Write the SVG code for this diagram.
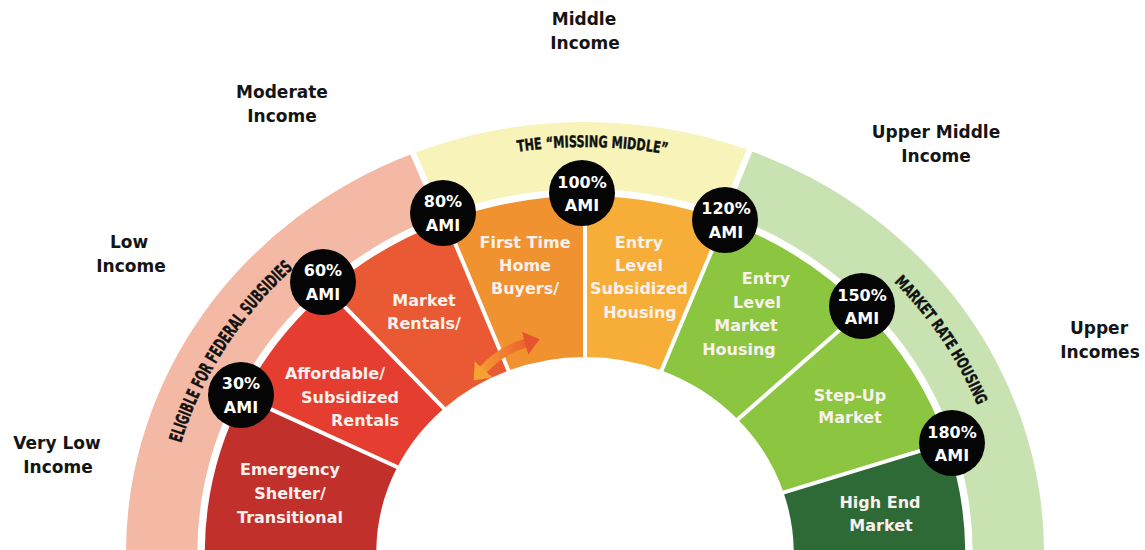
<svg xmlns="http://www.w3.org/2000/svg" width="1145" height="550" viewBox="0 0 1145 550">
<style>
.inc{font-family:"DejaVu Sans","Liberation Sans",sans-serif;font-weight:bold;font-size:17px;fill:#151515;text-anchor:middle}
.seg{font-family:"DejaVu Sans","Liberation Sans",sans-serif;font-weight:bold;font-size:16px;fill:#f8f1ee;text-anchor:middle}
.ami{font-family:"DejaVu Sans","Liberation Sans",sans-serif;font-weight:bold;font-size:16px;fill:#ffffff;text-anchor:middle}
.arc{font-family:"Liberation Sans Narrow","DejaVu Sans Condensed","Arial Narrow",sans-serif;font-weight:bold;font-stretch:condensed;fill:#111;stroke:#111;stroke-width:0.4}
.div{stroke:#fff;stroke-width:4;vector-effect:non-scaling-stroke;fill:none}
.gap{stroke:#fff;stroke-width:6;vector-effect:non-scaling-stroke;fill:none}
.dot{fill:#050505}
</style>
<defs>
<path id="p-elig" d="M169.5,491.2 A420.7 395 0 0 1 331.8,237.6" fill="none"/>
<path id="p-mkt" d="M845.3,240.2 A422.8 397 0 0 1 997.6,466.4" fill="none"/>
<path id="p-miss" d="M437.1,171.5 A432.4 406 0 0 1 747.0,176.6" fill="none"/>
<linearGradient id="arrowGrad" gradientUnits="userSpaceOnUse" x1="474" y1="0" x2="540" y2="0">
<stop offset="0" stop-color="#f5a232"/>
<stop offset="1" stop-color="#e8522e"/>
</linearGradient>
<marker id="headL" markerUnits="userSpaceOnUse" viewBox="0 0 15 24" markerWidth="15" markerHeight="24" refX="1" refY="12" orient="auto-start-reverse">
<path d="M0,0 L15,12 L0,24 Z" fill="#f5a232"/>
</marker>
<marker id="headR" markerUnits="userSpaceOnUse" viewBox="0 0 15 24" markerWidth="15" markerHeight="24" refX="1" refY="12" orient="auto">
<path d="M0,0 L15,12 L0,24 Z" fill="#e8522e"/>
</marker>
</defs>
<rect width="1145" height="550" fill="#ffffff"/>

<g id="band-federal">
<path transform="translate(585 553) scale(1.065 1)" d="M-161.5 -399.6 A431 431 0 0 0 -431 0 L-364 0 A364 364 0 0 1 -136.4 -337.5 Z" fill="#f4b9a5"/>
<text class="arc" font-size="18"><textPath href="#p-elig" startOffset="50%" text-anchor="middle" textLength="210" lengthAdjust="spacingAndGlyphs">ELIGIBLE FOR FEDERAL SUBSIDIES</textPath></text>
</g>
<g id="band-missing">
<path transform="translate(585 553) scale(1.065 1)" d="M154.5 -402.4 A431 431 0 0 0 -161.5 -399.6 L-136.4 -337.5 A364 364 0 0 1 130.5 -339.8 Z" fill="#f7f3b9"/>
<text class="arc" font-size="16"><textPath href="#p-miss" startOffset="50%" text-anchor="middle" textLength="150" lengthAdjust="spacingAndGlyphs">THE “MISSING MIDDLE”</textPath></text>
</g>
<g id="band-market">
<path transform="translate(585 553) scale(1.065 1)" d="M431 0 A431 431 0 0 0 154.5 -402.4 L130.5 -339.8 A364 364 0 0 1 364 0 Z" fill="#c9e2b1"/>
<text class="arc" font-size="16"><textPath href="#p-mkt" startOffset="50%" text-anchor="middle" textLength="150" lengthAdjust="spacingAndGlyphs">MARKET RATE HOUSING</textPath></text>
</g>

<g id="seg-emergency">
<path transform="translate(585 553) scale(1.065 1)" d="M-320.9 -156.5 A357 357 0 0 0 -357 0 L-196 0 A196 196 0 0 1 -176.2 -85.9 Z" fill="#c1302b"/>
<text class="seg"><tspan x="290" y="475">Emergency</tspan><tspan x="290" y="499">Shelter/</tspan><tspan x="290" y="523">Transitional</tspan></text>
</g>
<g id="seg-affordable">
<path transform="translate(585 553) scale(1.065 1)" d="M-241.2 -263.2 A357 357 0 0 0 -320.9 -156.5 L-176.2 -85.9 A196 196 0 0 1 -132.4 -144.5 Z" fill="#e63d31"/>
<text class="seg"><tspan x="335" y="379">Affordable/</tspan><tspan x="350" y="403">Subsidized</tspan><tspan x="365" y="426">Rentals</tspan></text>
</g>
<g id="seg-market-rentals">
<path transform="translate(585 553) scale(1.065 1)" d="M-130.8 -332.1 A357 357 0 0 0 -241.2 -263.2 L-132.4 -144.5 A196 196 0 0 1 -71.8 -182.4 Z" fill="#e95a34"/>
<text class="seg"><tspan x="424" y="306">Market</tspan><tspan x="424" y="329">Rentals/</tspan></text>
</g>
<g id="seg-first-time">
<path transform="translate(585 553) scale(1.065 1)" d="M0 -357 A357 357 0 0 0 -130.8 -332.1 L-71.8 -182.4 A196 196 0 0 1 0 -196 Z" fill="#f0922f"/>
<text class="seg"><tspan x="525" y="248">First Time</tspan><tspan x="525" y="271">Home</tspan><tspan x="525" y="294">Buyers/</tspan></text>
</g>
<g id="seg-entry-subsidized">
<path transform="translate(585 553) scale(1.065 1)" d="M130.8 -332.1 A357 357 0 0 0 0 -357 L0 -196 A196 196 0 0 1 71.8 -182.4 Z" fill="#f6ae38"/>
<text class="seg"><tspan x="639" y="248">Entry</tspan><tspan x="639" y="271">Level</tspan><tspan x="639" y="294">Subsidized</tspan><tspan x="640" y="318">Housing</tspan></text>
</g>
<g id="seg-entry-market">
<path transform="translate(585 553) scale(1.065 1)" d="M261.1 -243.5 A357 357 0 0 0 130.8 -332.1 L71.8 -182.4 A196 196 0 0 1 143.3 -133.7 Z" fill="#8cc540"/>
<text class="seg"><tspan x="766" y="284">Entry</tspan><tspan x="757" y="308">Level</tspan><tspan x="746" y="331">Market</tspan><tspan x="739" y="355">Housing</tspan></text>
</g>
<g id="seg-step-up">
<path transform="translate(585 553) scale(1.065 1)" d="M339.5 -110.3 A357 357 0 0 0 261.1 -243.5 L143.3 -133.7 A196 196 0 0 1 186.4 -60.6 Z" fill="#8cc540"/>
<text class="seg"><tspan x="850" y="401">Step-Up</tspan><tspan x="850" y="423">Market</tspan></text>
</g>
<g id="seg-high-end">
<path transform="translate(585 553) scale(1.065 1)" d="M357 0 A357 357 0 0 0 339.5 -110.3 L186.4 -60.6 A196 196 0 0 1 196 0 Z" fill="#2e6a36"/>
<text class="seg"><tspan x="880" y="508">High End</tspan><tspan x="881" y="531">Market</tspan></text>
</g>

<g id="dividers" transform="translate(585 553) scale(1.065 1)">
<line class="gap" x1="127.2" y1="-331.4" x2="157.7" y2="-410.8"/>
<line class="gap" x1="-133.0" y1="-329.1" x2="-164.8" y2="-408.0"/>
<line class="div" x1="180.7" y1="-58.7" x2="342.4" y2="-111.2"/>
<line class="div" x1="139.0" y1="-129.6" x2="263.3" y2="-245.5"/>
<line class="div" x1="69.6" y1="-176.8" x2="131.9" y2="-334.9"/>
<line class="div" x1="0" y1="-190" x2="0" y2="-360"/>
<line class="div" x1="-69.6" y1="-176.8" x2="-131.9" y2="-334.9"/>
<line class="div" x1="-128.4" y1="-140.1" x2="-243.2" y2="-265.4"/>
<line class="div" x1="-170.8" y1="-83.3" x2="-323.6" y2="-157.8"/>
</g>

<g id="connectors">
<path d="M483,370 Q501,350 526,343" fill="none" stroke="url(#arrowGrad)" stroke-width="9" marker-start="url(#headL)" marker-end="url(#headR)"/>
</g>

<g id="ami-30"><circle class="dot" cx="241" cy="395" r="33"/><text class="ami"><tspan x="241" y="389">30%</tspan><tspan x="241" y="413">AMI</tspan></text></g>
<g id="ami-60"><circle class="dot" cx="323" cy="282" r="33"/><text class="ami"><tspan x="323" y="276">60%</tspan><tspan x="323" y="300">AMI</tspan></text></g>
<g id="ami-80"><circle class="dot" cx="443" cy="213" r="33"/><text class="ami"><tspan x="443" y="207">80%</tspan><tspan x="443" y="231">AMI</tspan></text></g>
<g id="ami-100"><circle class="dot" cx="582" cy="193" r="33"/><text class="ami"><tspan x="582" y="188">100%</tspan><tspan x="582" y="211">AMI</tspan></text></g>
<g id="ami-120"><circle class="dot" cx="725" cy="220" r="33"/><text class="ami"><tspan x="726" y="214">120%</tspan><tspan x="726" y="238">AMI</tspan></text></g>
<g id="ami-150"><circle class="dot" cx="862" cy="306" r="33"/><text class="ami"><tspan x="862" y="301">150%</tspan><tspan x="862" y="324">AMI</tspan></text></g>
<g id="ami-180"><circle class="dot" cx="952" cy="443" r="33"/><text class="ami"><tspan x="952" y="438">180%</tspan><tspan x="952" y="461">AMI</tspan></text></g>

<g id="label-very-low"><text class="inc"><tspan x="57" y="449">Very Low</tspan><tspan x="58" y="473">Income</tspan></text></g>
<g id="label-low"><text class="inc"><tspan x="129" y="248">Low</tspan><tspan x="131" y="272">Income</tspan></text></g>
<g id="label-moderate"><text class="inc"><tspan x="282" y="98">Moderate</tspan><tspan x="282" y="122">Income</tspan></text></g>
<g id="label-middle"><text class="inc"><tspan x="584" y="25">Middle</tspan><tspan x="585" y="49">Income</tspan></text></g>
<g id="label-upper-middle"><text class="inc"><tspan x="936" y="138">Upper Middle</tspan><tspan x="936" y="162">Income</tspan></text></g>
<g id="label-upper"><text class="inc"><tspan x="1099" y="334">Upper</tspan><tspan x="1100" y="358">Incomes</tspan></text></g>
</svg>
